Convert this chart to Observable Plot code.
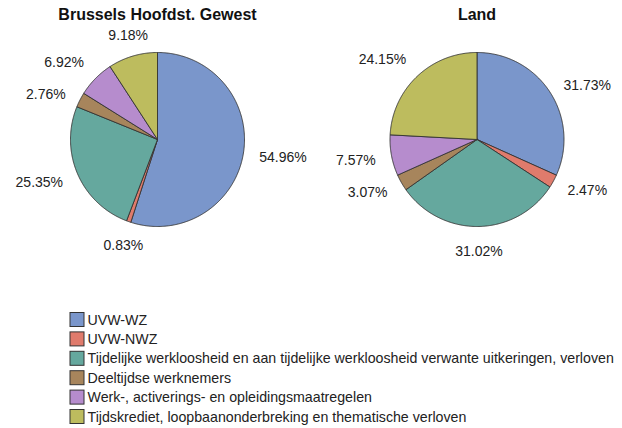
<!DOCTYPE html>
<html><head><meta charset="utf-8">
<script src="https://cdn.jsdelivr.net/npm/d3@7"></script>
<script src="https://cdn.jsdelivr.net/npm/@observablehq/plot@0.6"></script>
<style>body{margin:0;background:#fff}</style>
</head><body><div id="chart"></div>
<script>
// ---- data ----
const categories = [
  "UVW-WZ",
  "UVW-NWZ",
  "Tijdelijke werkloosheid en aan tijdelijke werkloosheid verwante uitkeringen, verloven",
  "Deeltijdse werknemers",
  "Werk-, activerings- en opleidingsmaatregelen",
  "Tijdskrediet, loopbaanonderbreking en thematische verloven"
];
const regions = ["Brussels Hoofdst. Gewest", "Land"];
const brusselsValues = [54.96, 0.83, 25.35, 2.76, 6.92, 9.18];
const landValues = [31.73, 2.47, 31.02, 3.07, 7.57, 24.15];
const colors = ["#7a96cb", "#e07b6c", "#65a89e", "#a7855c", "#b68ccd", "#bdbc5e"];

// ---- layout ----
const W = 622, H = 428;
const pies = [
  {region: regions[0], values: brusselsValues, cx: 157, cy: 139},
  {region: regions[1], values: landValues, cx: 476.5, cy: 139}
];
const R = 87, LR = 103;

const slicePts = [], labels = [], titles = [];
for (const p of pies) {
  titles.push({text: p.region, x: p.cx, y: 14});
  const arcs = d3.pie().sort(null).value(d => d)(p.values);
  arcs.forEach((a, i) => {
    const key = p.region + i;
    const pts = [[p.cx, p.cy]];
    const n = Math.max(2, Math.ceil((a.endAngle - a.startAngle) / 0.01));
    for (let k = 0; k <= n; k++) {
      const t = a.startAngle + (a.endAngle - a.startAngle) * k / n;
      pts.push([p.cx + R * Math.sin(t), p.cy - R * Math.cos(t)]);
    }
    pts.push([p.cx, p.cy]);
    for (const [x, y] of pts) slicePts.push({key, cat: categories[i], x, y});
    const mid = (a.startAngle + a.endAngle) / 2;
    const ux = Math.sin(mid), uy = -Math.cos(mid);
    const px = p.cx + LR * ux, py = p.cy + LR * uy;
    const anchor = ux > 0.4 ? "start" : ux < -0.4 ? "end" : "middle";
    const y = uy >= 0.7 ? py + 9 : uy <= -0.7 ? py - 5 : py + 2;
    labels.push({text: p.values[i].toFixed(2) + "%", x: px, y, anchor});
  });
}

const legendRows = categories.map((c, i) => ({cat: c, y: 319.5 + i * 19.4}));

const chart = Plot.plot({
  width: W, height: H,
  margin: 0,
  x: {domain: [0, W], range: [0, W], axis: null},
  y: {domain: [0, H], range: [0, H], axis: null},
  color: {domain: categories, range: colors, type: "ordinal"},
  style: {fontFamily: "'Liberation Sans', Arial, sans-serif", background: "#fff"},
  marks: [
    Plot.line(slicePts, {x: "x", y: "y", z: "key", fill: "cat", stroke: "#333", strokeWidth: 0.9, strokeLinejoin: "round", curve: "linear"}),
    Plot.text(titles, {x: "x", y: "y", text: "text", fontSize: 16, fontWeight: "bold", fill: "#111"}),
    ...["start", "middle", "end"].map(an =>
      Plot.text(labels.filter(d => d.anchor === an), {x: "x", y: "y", text: "text", textAnchor: an, fontSize: 14, fill: "#222"})
    ),
    Plot.rect(legendRows, {x1: () => 70, x2: () => 84, y1: d => d.y - 7, y2: d => d.y + 7, fill: "cat", stroke: "#333", strokeWidth: 1}),
    Plot.text(legendRows, {x: () => 87, y: "y", text: "cat", textAnchor: "start", fontSize: 14.2, fill: "#222"})
  ]
});
document.getElementById("chart").append(chart);
</script>
</body></html>
